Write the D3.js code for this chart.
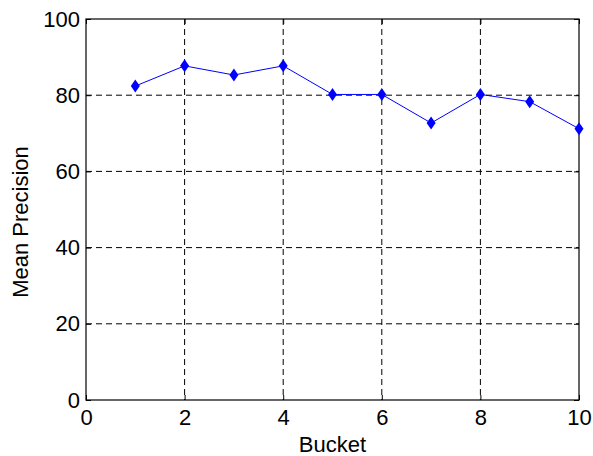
<!DOCTYPE html>
<html>
<head>
<meta charset="utf-8">
<script src="https://cdn.jsdelivr.net/npm/d3@7"></script>
<style>
  body { margin: 0; background: #fff; }
  svg { font-family: "Liberation Sans", Arial, sans-serif; }
</style>
</head>
<body>
<div id="chart"></div>
<script>
const buckets = [1, 2, 3, 4, 5, 6, 7, 8, 9, 10];
const meanPrecision = [82.4, 87.7, 85.3, 87.7, 80.2, 80.2, 72.7, 80.2, 78.3, 71.2];
const xTicks = [0, 2, 4, 6, 8, 10];
const yTicks = [0, 20, 40, 60, 80, 100];

const W = 593, H = 456;
const margin = { top: 19, right: 14, bottom: 56, left: 86 };
const width = W - margin.left - margin.right;
const height = H - margin.top - margin.bottom;

const svg = d3.select('#chart').append('svg')
  .attr('width', W).attr('height', H);
const g = svg.append('g')
  .attr('transform', `translate(${margin.left},${margin.top})`);

const x = d3.scaleLinear().domain([0, 10]).range([0, width]);
const y = d3.scaleLinear().domain([0, 100]).range([height, 0]);

// dashed grid
g.selectAll('.gx').data(xTicks.filter(d => d > 0 && d < 10)).enter()
  .append('line')
  .attr('x1', d => x(d)).attr('x2', d => x(d))
  .attr('y1', 0).attr('y2', height)
  .attr('stroke', '#000').attr('stroke-width', 1)
  .attr('stroke-dasharray', '6,4');
g.selectAll('.gy').data(yTicks.filter(d => d > 0 && d < 100)).enter()
  .append('line')
  .attr('x1', 0).attr('x2', width)
  .attr('y1', d => y(d)).attr('y2', d => y(d))
  .attr('stroke', '#000').attr('stroke-width', 1)
  .attr('stroke-dasharray', '6,4');

// inner ticks (matlab style) on all sides
const tickLen = 5;
g.append('g').attr('transform', `translate(0,${height})`)
  .call(d3.axisBottom(x).tickValues(xTicks).tickSize(-tickLen).tickPadding(9).tickFormat(d3.format('d')));
g.append('g')
  .call(d3.axisTop(x).tickValues(xTicks).tickSize(-tickLen).tickFormat(''));
g.append('g')
  .call(d3.axisLeft(y).tickValues(yTicks).tickSize(-tickLen).tickPadding(6).tickFormat(d3.format('d')));
g.append('g').attr('transform', `translate(${width},0)`)
  .call(d3.axisRight(y).tickValues(yTicks).tickSize(-tickLen).tickFormat(''));

g.selectAll('.domain').remove();
g.selectAll('.tick line').attr('stroke', '#000');
g.selectAll('.tick text').style('font-size', '22px').style('fill', '#000')
  .style('font-family', '"Liberation Sans", Arial, sans-serif');

// frame
g.append('rect')
  .attr('width', width).attr('height', height)
  .attr('fill', 'none').attr('stroke', '#000').attr('stroke-width', 1.2);

// series
const pts = buckets.map((b, i) => [b, meanPrecision[i]]);
g.append('path').datum(pts)
  .attr('fill', 'none').attr('stroke', '#0000ff').attr('stroke-width', 1)
  .attr('d', d3.line().x(d => x(d[0])).y(d => y(d[1])));

g.selectAll('.mk').data(pts).enter()
  .append('path')
  .attr('transform', d => `translate(${x(d[0])},${y(d[1])})`)
  .attr('d', 'M0,-6.5L4.5,0L0,6.5L-4.5,0Z')
  .attr('fill', '#0000ff');

// axis labels
svg.append('text')
  .attr('x', margin.left + width / 2).attr('y', 452)
  .attr('text-anchor', 'middle')
  .style('font-size', '22px')
  .text('Bucket');
svg.append('text')
  .attr('transform', `translate(28,222) rotate(-90)`)
  .attr('text-anchor', 'middle')
  .style('font-size', '22px')
  .text('Mean Precision');
</script>
</body>
</html>
